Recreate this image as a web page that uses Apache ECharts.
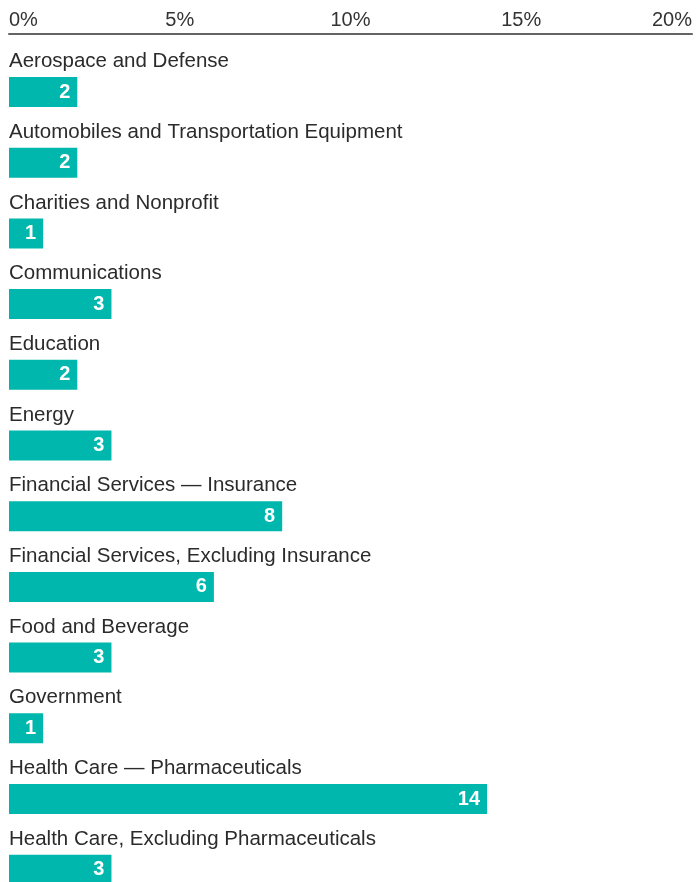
<!DOCTYPE html>
<html>
<head>
<meta charset="utf-8">
<script src="https://cdn.jsdelivr.net/npm/echarts@6/dist/echarts.min.js"></script>
<style>
  html, body { margin: 0; padding: 0; background: #ffffff; }
  #chart { width: 696px; height: 882px; }
</style>
</head>
<body>
<div id="chart"></div>
<script>
// Industry breakdown (share of respondents, %)
const categories = [
  'Aerospace and Defense',
  'Automobiles and Transportation Equipment',
  'Charities and Nonprofit',
  'Communications',
  'Education',
  'Energy',
  'Financial Services \u2014 Insurance',
  'Financial Services, Excluding Insurance',
  'Food and Beverage',
  'Government',
  'Health Care \u2014 Pharmaceuticals',
  'Health Care, Excluding Pharmaceuticals'
];
const shares = [2, 2, 1, 3, 2, 3, 8, 6, 3, 1, 14, 3];
const axisMin = 0;
const axisMax = 20;
const axisStep = 5;

const FONT = '"Liberation Sans", Arial, sans-serif';
const TEAL = '#00b7ad';

// Each category occupies a fixed-height band; the bar sits in its lower part,
// with the name printed above it. The last band runs past the bottom edge.
const bandH = 70.7;
const gridTop = 56.65;
const chartH = 882;
const gridBottom = chartH - (gridTop + bandH * categories.length);

const chart = echarts.init(document.getElementById('chart'), null, { renderer: 'canvas' });
chart.setOption({
  animation: false,
  backgroundColor: '#ffffff',
  grid: {
    left: 9,
    right: 4,
    top: gridTop,
    bottom: gridBottom,
    containLabel: false,
    outerBoundsMode: 'none'
  },
  xAxis: {
    type: 'value',
    position: 'top',
    offset: gridTop - 34,
    min: axisMin,
    max: axisMax,
    interval: axisStep,
    axisLine: { show: true, lineStyle: { color: '#646464', width: 2 } },
    axisTick: { show: false },
    splitLine: { show: false },
    axisLabel: {
      formatter: '{value}%',
      color: '#333333',
      fontFamily: FONT,
      fontSize: 20,
      margin: 4,
      alignMinLabel: 'left',
      alignMaxLabel: 'right'
    }
  },
  yAxis: {
    type: 'category',
    inverse: true,
    data: categories,
    axisLine: { show: false },
    axisTick: { show: false },
    splitLine: { show: false },
    axisLabel: {
      inside: true,
      margin: 0,
      align: 'left',
      verticalAlign: 'bottom',
      padding: [0, 0, 20, 0],
      color: '#2b2b2b',
      fontFamily: FONT,
      fontSize: 20.5
    }
  },
  series: [{
    type: 'bar',
    data: shares,
    barWidth: 30,
    itemStyle: { color: TEAL },
    label: {
      show: true,
      position: 'insideRight',
      distance: 7,
      color: '#ffffff',
      fontFamily: FONT,
      fontWeight: 'bold',
      fontSize: 20
    }
  }]
});
</script>
</body>
</html>
